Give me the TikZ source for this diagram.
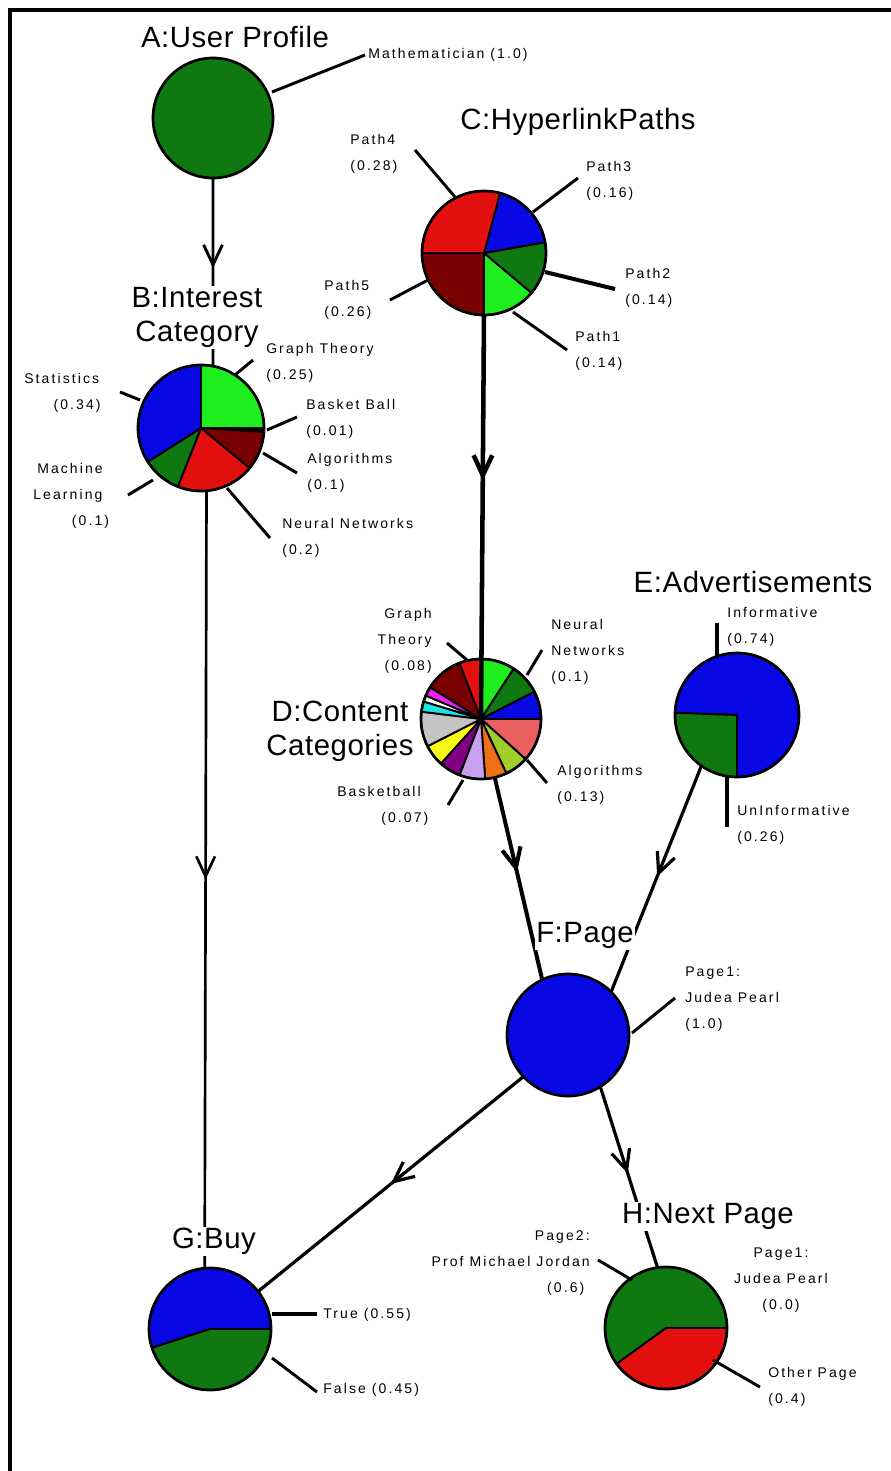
\documentclass[tikz,border=0pt]{standalone}
\usepackage{fontspec}
\setmainfont{Liberation Sans}
\newfontfamily\labfont[LetterSpace=15]{Liberation Sans}
\newfontfamily\ttlfont[LetterSpace=2]{Liberation Sans}
\usetikzlibrary{arrows.meta,decorations.markings}
\definecolor{cgreen}{RGB}{16,120,16}
\definecolor{clgreen}{RGB}{30,238,30}
\definecolor{cblue}{RGB}{8,8,228}
\definecolor{cred}{RGB}{228,16,16}
\definecolor{cdred}{RGB}{120,0,0}
\definecolor{csalmon}{RGB}{234,96,96}
\definecolor{cyg}{RGB}{160,205,40}
\definecolor{corange}{RGB}{240,112,24}
\definecolor{clav}{RGB}{200,160,240}
\definecolor{cpurple}{RGB}{128,0,128}
\definecolor{cyellow}{RGB}{250,250,24}
\definecolor{cgray}{RGB}{196,196,196}
\definecolor{ccyan}{RGB}{24,230,230}
\definecolor{cmag}{RGB}{240,30,240}
\newcommand{\pieslc}[5]{\filldraw[fill=#5,slicepen] (#1) -- ++(#2:#4) arc[start angle=#2,end angle=#3,radius=#4] -- cycle;}
\begin{document}
\begin{tikzpicture}[x=0.75pt,y=-0.75pt,
  pienode/.style={circle,inner sep=0pt,outer sep=0pt,minimum size=#1},
  rim/.style={draw=black,line width=2pt},
  slicepen/.style={draw=black,line width=1.4pt,line join=round},
  lead/.style={line width=2.2pt},
  conn/.style={line width=#1},
  midarr/.style={postaction={decorate},decoration={markings,mark=at position #1 with {\arrow{Straight Barb[length=15pt,width=14pt]}}}},
  ttl/.style={font=\ttlfont\fontsize{22}{25.5}\selectfont,fill=white,inner sep=1pt,align=center},
  lab/.style={font=\labfont\fontsize{10.5}{19.5}\selectfont,inner sep=0pt}
]
\useasboundingbox (0,0) rectangle (890,1471);
\fill[white] (0,0) rectangle (890,1471);
\draw[line width=3pt] (10,1490) -- (10,10) -- (900,10);

% ---------- A ----------
\node[pienode=90pt,fill=cgreen,rim] (A) at (213,118) {};
% ---------- B ----------
\node[pienode=94.5pt] (B) at (201,428) {};
\pieslc{B.center}{0}{90}{47.25pt}{clgreen}
\pieslc{B.center}{-3.6}{0}{47.25pt}{black}
\pieslc{B.center}{-39.6}{-3.6}{47.25pt}{cdred}
\pieslc{B.center}{-111.6}{-39.6}{47.25pt}{cred}
\pieslc{B.center}{-147.6}{-111.6}{47.25pt}{cgreen}
\pieslc{B.center}{90}{212.4}{47.25pt}{cblue}
\draw[rim] (B.center) circle[radius=47.25pt];
% ---------- C ----------
\node[pienode=93pt] (C) at (484,253) {};
\pieslc{C.center}{-90}{-40}{46.5pt}{clgreen}
\pieslc{C.center}{-40}{10}{46.5pt}{cgreen}
\pieslc{C.center}{10}{75}{46.5pt}{cblue}
\pieslc{C.center}{75}{180}{46.5pt}{cred}
\pieslc{C.center}{180}{270}{46.5pt}{cdred}
\draw[rim] (C.center) circle[radius=46.5pt];
% ---------- D ----------
\node[pienode=90pt] (D) at (481,719) {};
\pieslc{D.center}{57}{90}{45pt}{clgreen}
\pieslc{D.center}{27}{57}{45pt}{cgreen}
\pieslc{D.center}{0}{27}{45pt}{cblue}
\pieslc{D.center}{-42}{0}{45pt}{csalmon}
\pieslc{D.center}{-65}{-42}{45pt}{cyg}
\pieslc{D.center}{-86}{-65}{45pt}{corange}
\pieslc{D.center}{-111}{-86}{45pt}{clav}
\pieslc{D.center}{-132}{-111}{45pt}{cpurple}
\pieslc{D.center}{-153}{-132}{45pt}{cyellow}
\pieslc{D.center}{173}{207}{45pt}{cgray}
\pieslc{D.center}{163}{173}{45pt}{ccyan}
\pieslc{D.center}{157}{163}{45pt}{white}
\pieslc{D.center}{148}{157}{45pt}{cmag}
\pieslc{D.center}{111}{148}{45pt}{cdred}
\pieslc{D.center}{90}{111}{45pt}{cred}
\draw[rim] (D.center) circle[radius=45pt];
% ---------- E ----------
\node[pienode=93pt] (E) at (737,715) {};
\pieslc{E.center}{-90}{178}{46.5pt}{cblue}
\pieslc{E.center}{178}{270}{46.5pt}{cgreen}
\draw[rim] (E.center) circle[radius=46.5pt];
% ---------- F ----------
\node[pienode=91.5pt,fill=cblue,rim] (F) at (568,1035) {};
% ---------- G ----------
\node[pienode=91.5pt] (G) at (210,1329) {};
\pieslc{G.center}{0}{198}{45.75pt}{cblue}
\pieslc{G.center}{198}{360}{45.75pt}{cgreen}
\draw[rim] (G.center) circle[radius=45.75pt];
% ---------- H ----------
\node[pienode=91.5pt] (H) at (666,1328) {};
\pieslc{H.center}{0}{216}{45.75pt}{cgreen}
\pieslc{H.center}{216}{360}{45.75pt}{cred}
\draw[rim] (H.center) circle[radius=45.75pt];

% ---------- leader lines ----------
\draw[lead] (272,92) -- (365,55);
\draw[lead] (235,375) -- (253,360);
\draw[lead] (267,430) -- (297,417);
\draw[lead] (263,453) -- (297,473);
\draw[lead] (227,488) -- (270,538);
\draw[lead] (120,392) -- (140,400);
\draw[lead] (128,495) -- (153,480);
\draw[lead] (415,150) -- (455,197);
\draw[lead] (533,212) -- (578,178);
\draw[lead,line width=3pt] (545,272) -- (615,289);
\draw[lead] (513,312) -- (567,350);
\draw[lead] (428,280) -- (390,300);
\draw[lead] (447,643) -- (467,660);
\draw[lead] (527,675) -- (542,650);
\draw[lead] (527,760) -- (547,783);
\draw[lead] (463,780) -- (448,805);
\draw[lead,line width=3pt] (717,623) -- (717,657);
\draw[lead,line width=3pt] (727,777) -- (727,827);
\draw[lead] (632,1033) -- (675,998);
\draw[lead,line width=3.2pt] (272,1314) -- (317,1314);
\draw[lead] (272,1358) -- (317,1392);
\draw[lead] (598,1260) -- (632,1280);
\draw[lead] (713,1360) -- (760,1387);

% ---------- edges ----------
\draw[conn=2.2pt,midarr=0.48] (A.south) -- (B.79);
\draw[conn=2pt,midarr=0.5] (B.-85) -- (G.95);
\draw[conn=3.4pt,midarr=0.41] (C.south) -- (D.center);
\draw[conn=3pt,midarr=0.47] (D) -- (F.115);
\draw[conn=2.4pt,midarr=0.49] (E.-125) -- (F.45);
\draw[conn=2.4pt,midarr=0.5] (F.-137) -- (G.38);
\draw[conn=2.4pt,midarr=0.48] (F.-58) -- (H.98);

% ---------- state labels ----------
\node[lab,anchor=west] (lA) at (368,55) {Mathematician (1.0)};
\node[lab,anchor=north west,align=left] (lGT) at (266,343.5) {Graph Theory\\(0.25)};
\node[lab,anchor=north west,align=left] (lBB) at (306,399.5) {Basket Ball\\(0.01)};
\node[lab,anchor=north west,align=left] (lAl) at (307,453.5) {Algorithms\\(0.1)};
\node[lab,anchor=north west,align=left] (lNN) at (282,518.5) {Neural Networks\\(0.2)};
\node[lab,anchor=north west,align=left] (lSt) at (24,373.5) {Statistics\\\hspace*{22pt}(0.34)};
\node[lab,anchor=north west,align=left] (lML) at (33,463.5) {\hspace*{3pt}Machine\\Learning\\\hspace*{29pt}(0.1)};
\node[lab,anchor=north west,align=left] (lP4) at (350,134.5) {Path4\\(0.28)};
\node[lab,anchor=north west,align=left] (lP3) at (586,161.5) {Path3\\(0.16)};
\node[lab,anchor=north west,align=left] (lP2) at (625,268.5) {Path2\\(0.14)};
\node[lab,anchor=north west,align=left] (lP1) at (575,331.5) {Path1\\(0.14)};
\node[lab,anchor=north west,align=left] (lP5) at (324,280.5) {Path5\\(0.26)};
\node[lab,anchor=north east,align=right] (lDGT) at (432,608.5) {Graph\\Theory\\(0.08)};
\node[lab,anchor=north west,align=left] (lDNN) at (551,619.5) {Neural\\Networks\\(0.1)};
\node[lab,anchor=north west,align=left] (lDAl) at (557,765.5) {Algorithms\\(0.13)};
\node[lab,anchor=north west,align=left] (lDBB) at (337,786.5) {Basketball\\\hspace*{33pt}(0.07)};
\node[lab,anchor=north west,align=left] (lInf) at (727,607.5) {Informative\\(0.74)};
\node[lab,anchor=north west,align=left] (lUn) at (737,805.5) {UnInformative\\(0.26)};
\node[lab,anchor=north west,align=left] (lFP) at (685,966.5) {Page1:\\Judea Pearl\\(1.0)};
\node[lab,anchor=west] (lTr) at (323,1315) {True (0.55)};
\node[lab,anchor=west] (lFa) at (323,1390) {False (0.45)};
\node[lab,anchor=north east,align=right] (lHP2) at (590,1230.5) {Page2:\\Prof Michael Jordan\hspace*{15pt}\\(0.6)\hspace*{4pt}};
\node[lab,anchor=north,align=center] (lHP1) at (781,1247.5) {Page1:\\Judea Pearl\\(0.0)};
\node[lab,anchor=north west,align=left] (lHO) at (768,1367.5) {Other Page\\(0.4)};

% ---------- titles ----------
\node[ttl,anchor=base] (tA) at (235,47.5) {A:User Profile};
\node[ttl,anchor=base] (tC) at (578,129.5) {C:HyperlinkPaths};
\node[ttl,anchor=north] (tB) at (197,286) {B:Interest\\Category};
\node[ttl,anchor=north] (tD) at (340,699) {D:Content\\Categories};
\node[ttl,anchor=base east] (tE) at (874,592.5) {E:Advertisements};
\node[ttl,anchor=base] (tF) at (585,942.5) {F:Page};
\node[ttl,anchor=base] (tG) at (214,1248.5) {G:Buy};
\node[ttl,anchor=base] (tH) at (708,1223.5) {H:Next Page};
\end{tikzpicture}
\end{document}
